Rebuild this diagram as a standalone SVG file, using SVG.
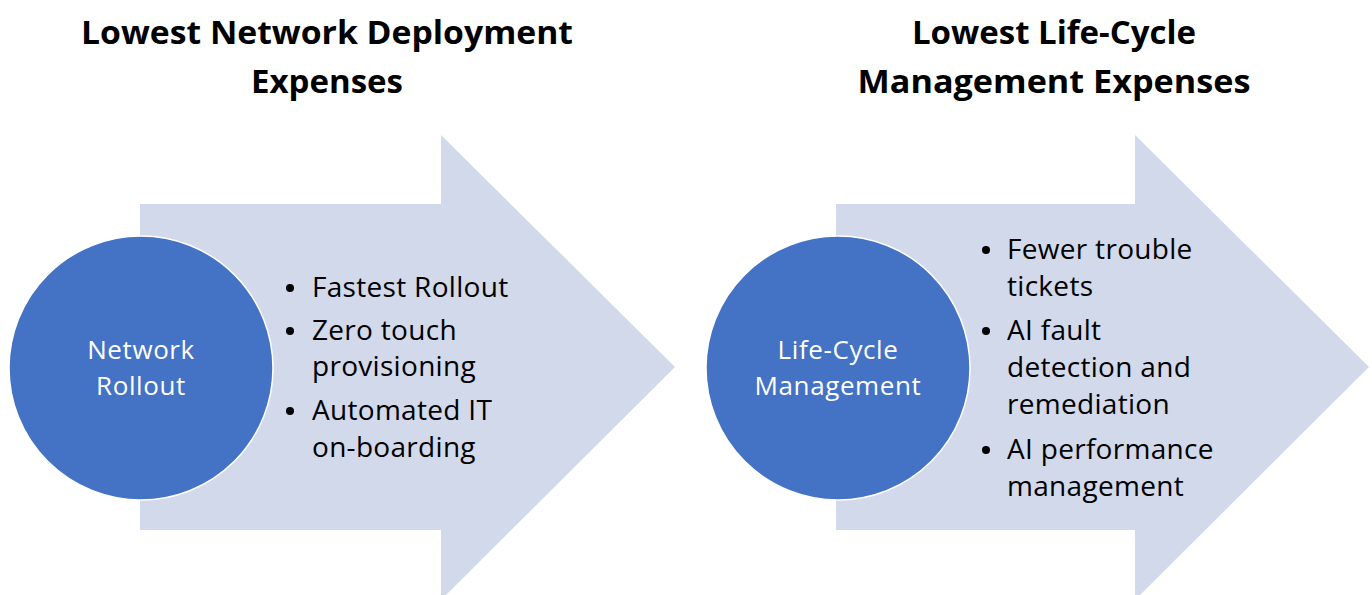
<svg xmlns="http://www.w3.org/2000/svg" width="1372" height="595" viewBox="0 0 1372 595">
<style>
.arrow{fill:#D2D9EB;}
.circ{fill:#4472C4;stroke:#ffffff;stroke-width:1.5;}
.title{font-family:"Open Sans","Liberation Sans",sans-serif;font-weight:bold;font-size:33px;fill:#000;text-anchor:middle;}
.ctext{font-family:"Open Sans","Liberation Sans",sans-serif;font-size:26px;letter-spacing:0.6px;fill:#fff;text-anchor:middle;}
.btext{font-family:"Open Sans","Liberation Sans",sans-serif;font-size:28px;letter-spacing:0.3px;fill:#000;}
</style>
<rect width="1372" height="595" fill="#ffffff"/>
<g id="title-left">
<text class="title" x="327" y="44" textLength="492" lengthAdjust="spacingAndGlyphs">Lowest Network Deployment</text>
<text class="title" x="327" y="93">Expenses</text>
</g>
<g id="title-right">
<text class="title" x="1054" y="44">Lowest Life-Cycle</text>
<text class="title" x="1054" y="93" textLength="393" lengthAdjust="spacingAndGlyphs">Management Expenses</text>
</g>
<g id="connectors">
<polygon id="arrow-left" class="arrow" points="140,204 441,204 441,135 675,367 441,600 441,530 140,530"/>
<polygon id="arrow-right" class="arrow" points="836,204 1135,204 1135,135 1369,367 1135,600 1135,530 836,530"/>
</g>
<g id="node-network-rollout">
<circle class="circ" cx="141" cy="368" r="132"/>
<text class="ctext" x="141" y="359">Network</text>
<text class="ctext" x="141" y="395">Rollout</text>
</g>
<g id="node-lifecycle">
<circle class="circ" cx="838" cy="368" r="132"/>
<text class="ctext" x="838" y="359">Life-Cycle</text>
<text class="ctext" x="838" y="395">Management</text>
</g>
<g id="bullets-left">
<circle cx="290" cy="288" r="4"/>
<text class="btext" x="312" y="297">Fastest Rollout</text>
<circle cx="290" cy="331" r="4"/>
<text class="btext" x="312" y="340">Zero touch</text>
<text class="btext" x="312" y="376">provisioning</text>
<circle cx="290" cy="411" r="4"/>
<text class="btext" x="312" y="420">Automated IT</text>
<text class="btext" x="312" y="457">on-boarding</text>
</g>
<g id="bullets-right">
<circle cx="986" cy="250" r="4"/>
<text class="btext" x="1007" y="259">Fewer trouble</text>
<text class="btext" x="1007" y="296">tickets</text>
<circle cx="986" cy="331" r="4"/>
<text class="btext" x="1007" y="340">AI fault</text>
<text class="btext" x="1007" y="377">detection and</text>
<text class="btext" x="1007" y="414">remediation</text>
<circle cx="986" cy="450" r="4"/>
<text class="btext" x="1007" y="459">AI performance</text>
<text class="btext" x="1007" y="496">management</text>
</g>
</svg>
